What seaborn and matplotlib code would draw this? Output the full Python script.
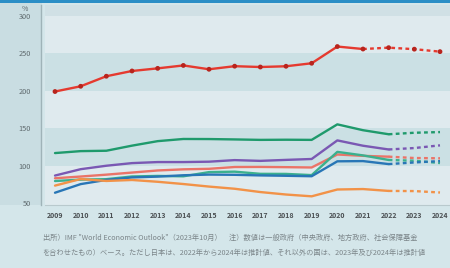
import matplotlib
matplotlib.use("Agg")
import matplotlib.pyplot as plt
import seaborn as sns
import pandas as pd

years = list(range(2009, 2025))

japan = [198.7, 205.7, 219.1, 226.1, 229.6, 233.5, 228.4, 232.5, 231.4, 232.4, 236.4, 258.7, 255.4, 257.2, 255.2, 251.9]
italy = [116.6, 119.2, 119.7, 126.5, 132.5, 135.4, 135.3, 134.8, 134.2, 134.4, 134.2, 154.9, 147.1, 141.7, 143.7, 144.6]
usa = [86.6, 95.1, 99.7, 103.2, 104.6, 104.6, 105.1, 107.2, 106.2, 107.5, 108.7, 133.5, 126.4, 121.4, 123.3, 126.9]
france = [83.0, 85.3, 87.8, 90.6, 93.4, 94.9, 95.6, 98.0, 98.1, 97.8, 97.4, 114.7, 112.9, 111.8, 110.0, 109.6]
canada = [79.3, 81.2, 81.8, 85.4, 86.1, 85.6, 91.2, 91.8, 88.9, 88.8, 87.2, 118.2, 113.5, 107.4, 106.4, 103.3]
uk = [63.7, 75.2, 80.8, 84.1, 85.2, 87.0, 87.9, 87.6, 86.8, 86.3, 85.7, 105.6, 105.9, 101.9, 104.1, 105.9]
germany = [73.2, 82.0, 79.4, 80.7, 78.3, 75.3, 71.9, 69.0, 64.6, 61.3, 58.9, 68.0, 68.6, 66.1, 65.9, 64.0]

# last year of actual figures (estimates drawn dashed afterwards)
japan_last_actual = 2021
others_last_actual = 2022

y_ticks = [50, 100, 150, 200, 250, 300]
footnote = [
    "出所）IMF \"World Economic Outlook\"（2023年10月）　注）数値は一般政府（中央政府、地方政府、社会保障基金",
    "を合わせたもの）ベース。ただし日本は、2022年から2024年は推計値、それ以外の国は、2023年及び2024年は推計値",
]

series = {
    "日本": (japan, "#e53a2f", japan_last_actual),
    "イタリア": (italy, "#1f9a6c", others_last_actual),
    "米国": (usa, "#7a58b3", others_last_actual),
    "フランス": (france, "#ea7468", others_last_actual),
    "カナダ": (canada, "#3bb08e", others_last_actual),
    "英国": (uk, "#2876b6", others_last_actual),
    "ドイツ": (germany, "#f29248", others_last_actual),
}

sns.set_theme(style="white")
plt.rcParams["font.family"] = ["Noto Sans CJK JP", "DejaVu Sans"]

fig = plt.figure(figsize=(4.5, 2.68), dpi=100)
fig.patch.set_facecolor("#d4e6ea")
# darker strip behind the y labels, blue bar on top
fig.patches.append(plt.Rectangle((0, 0.235), 0.093, 0.755, transform=fig.transFigure,
                                 facecolor="#c9dde2", edgecolor="none", zorder=-2))
fig.patches.append(plt.Rectangle((0, 0.988), 1, 0.012, transform=fig.transFigure,
                                 facecolor="#2b8ec6", edgecolor="none", zorder=-2))

ax = fig.add_axes([0.1, 0.235, 0.9, 0.746])
ax.set_facecolor("#dfeaee")
for side in ["top", "right"]:
    ax.spines[side].set_visible(False)
ax.spines["left"].set_position(("outward", 3))
ax.spines["left"].set_color("#9fb3b8")
ax.spines["left"].set_linewidth(1.0)
ax.spines["bottom"].set_color("#b9c9cd")
ax.spines["bottom"].set_linewidth(0.8)

for lo, hi in [(100, 150), (200, 250)]:
    ax.axhspan(lo, hi, color="#cbe0e4", zorder=0, lw=0)
ax.axhspan(300, 320, color="#d0e0e5", zorder=0, lw=0)

for name, (vals, color, last) in series.items():
    df = pd.DataFrame({"year": years, "value": vals})
    solid = df[df.year <= last]
    dashed = df[df.year >= last]
    sns.lineplot(data=solid, x="year", y="value", color=color, lw=1.7, ax=ax)
    sns.lineplot(data=dashed, x="year", y="value", color=color, lw=1.7,
                 linestyle=(0, (1.6, 1.4)), ax=ax)
    if name == "日本":
        sns.scatterplot(data=df, x="year", y="value", color="#b8241d", s=12,
                        edgecolor="none", ax=ax, zorder=5)

ax.set_xlim(2008.61, 2024.39)
ax.set_ylim(47.3, 314)
ax.set_xticks(years)
ax.set_xticklabels([str(y) for y in years], fontsize=5, color="#4a4f52", fontweight="bold")
ax.set_yticks(y_ticks)
ax.set_yticklabels([str(t) for t in y_ticks], fontsize=5.3, color="#5f6a6e")
ax.tick_params(axis="x", length=0, pad=5)
ax.tick_params(axis="y", length=0, pad=7)
ax.set_xlabel("")
ax.set_ylabel("")

fig.text(0.055, 0.982, "%", fontsize=5, color="#5f6a6e", ha="center", va="top")
fig.text(0.095, 0.112, footnote[0], fontsize=5.2, color="#7b8589", va="center")
fig.text(0.095, 0.055, footnote[1], fontsize=5.2, color="#7b8589", va="center")

fig.savefig("out.png", dpi=100, facecolor=fig.get_facecolor())
